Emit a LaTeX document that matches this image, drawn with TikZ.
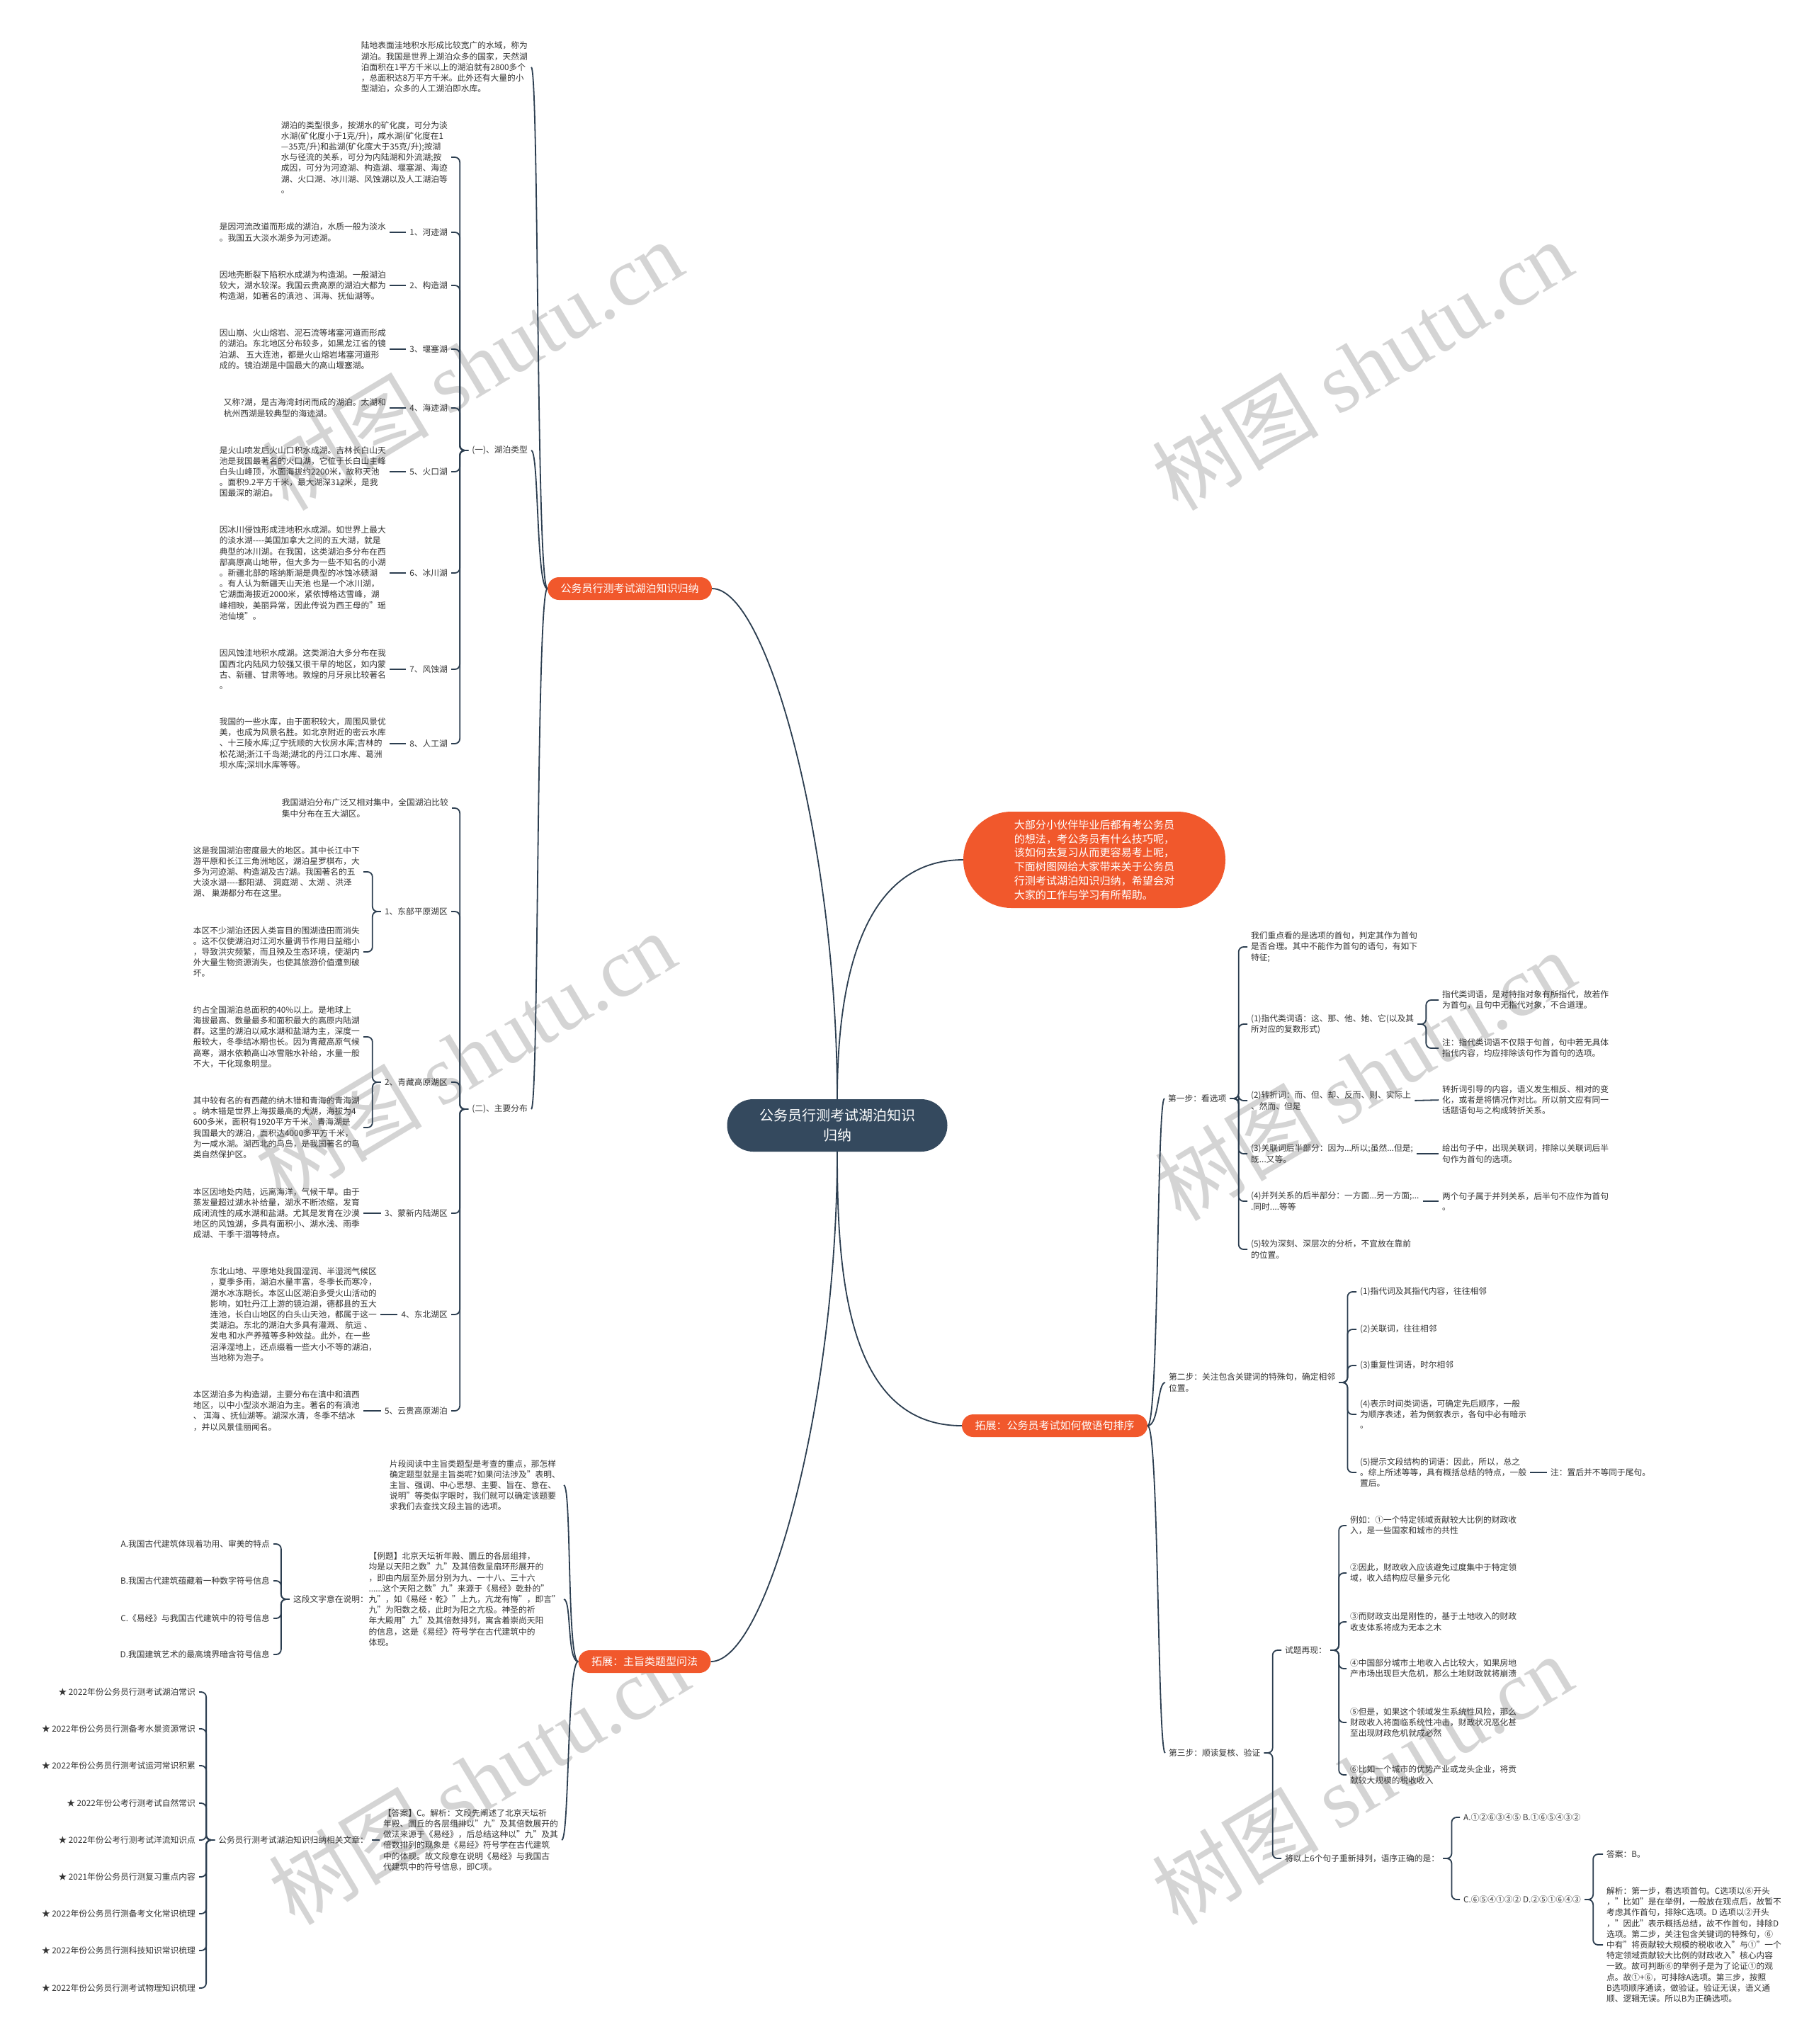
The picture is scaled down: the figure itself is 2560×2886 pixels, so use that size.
\documentclass[tikz,border=0pt]{standalone}
\usepackage{fontspec}
\setmainfont{Noto Sans CJK SC}
\newfontfamily\wmlatin{Liberation Serif}
\definecolor{ink}{RGB}{51,51,51}
\definecolor{edge}{RGB}{44,62,80}
\definecolor{hub}{RGB}{52,73,94}
\definecolor{tang}{RGB}{241,88,44}
\definecolor{mark}{RGB}{212,212,212}

\begin{document}
\begin{tikzpicture}[x=1pt,y=-1pt,
    txt/.style={inner sep=0pt,align=left,text=ink,font=\fontsize{11.75}{15.2}\selectfont},
    lt/.style={txt,anchor=east},
    rt/.style={txt,anchor=west},
    pill/.style={fill=tang,text=white,rounded corners=16pt,minimum height=32pt,
      inner xsep=18.5pt,inner ysep=0pt,font=\fontsize{15}{18}\selectfont},
    wm/.style={text=mark,rotate=31,font=\fontsize{118}{118}\selectfont},
    ln/.style={color=edge,line width=1.8pt},
    lft/.style={to path={-- ++(-17,0) |- (\tikztotarget)}},
    rgt/.style={to path={-- ++(17,0) |- (\tikztotarget)}},
    cl/.style={to path={.. controls +(-16,0) and +(16,0) .. (\tikztotarget)}},
    cr/.style={to path={.. controls +(16,0) and +(-16,0) .. (\tikztotarget)}}]

\fill[white] (0,0) rectangle (2560,2886);
\useasboundingbox (0,0) rectangle (2560,2886);

% watermarks
\draw
  (667,515) node[wm] (w1){树图 {\wmlatin shutu.cn}}
  (1923,515) node[wm] (w2){树图 {\wmlatin shutu.cn}}
  (657,1491) node[wm] (w3){树图 {\wmlatin shutu.cn}}
  (1927,1518) node[wm] (w4){树图 {\wmlatin shutu.cn}}
  (676,2512) node[wm] (w5){树图 {\wmlatin shutu.cn}}
  (1923,2512) node[wm] (w6){树图 {\wmlatin shutu.cn}};

% centre and main branches
\draw
  (1182,1589) node[fill=hub,text=white,rounded corners=37pt,minimum width=311pt,minimum height=74pt,
    align=center,inner sep=0pt,font=\fontsize{20}{28}\selectfont] (c){公务员行测考试湖泊知识\\归纳}
  (1545,1214) node[fill=tang,text=white,rounded corners=68pt,minimum width=370pt,minimum height=136pt,
    align=left,inner sep=0pt,font=\fontsize{15.1}{19.7}\selectfont] (in){大部分小伙伴毕业后都有考公务员\\的想法，考公务员有什么技巧呢，\\该如何去复习从而更容易考上呢，\\下面树图网给大家带来关于公务员\\行测考试湖泊知识归纳，希望会对\\大家的工作与学习有所帮助。}
  (889,831) node[pill] (b1){公务员行测考试湖泊知识归纳}
  (1489,2013) node[pill] (b2){拓展：公务员考试如何做语句排序}
  (910,2346) node[pill] (b3){拓展：主旨类题型问法};

% lake types
\draw
  (745,95) node[lt] (t0){陆地表面洼地积水形成比较宽广的水域，称为\\湖泊。我国是世界上湖泊众多的国家，天然湖\\泊面积在1平方千米以上的湖泊就有2800多个\\，总面积达8万平方千米。此外还有大量的小\\型湖泊，众多的人工湖泊即水库。}
  (745,636) node[lt] (g1){(一)、湖泊类型}
  (632,222) node[lt] (t1){湖泊的类型很多，按湖水的矿化度，可分为淡\\水湖(矿化度小于1克/升)，咸水湖(矿化度在1\\—35克/升)和盐湖(矿化度大于35克/升);按湖\\水与径流的关系，可分为内陆湖和外流湖;按\\成因，可分为河迹湖、构造湖、堰塞湖、海迹\\湖、火口湖、冰川湖、风蚀湖以及人工湖泊等\\。}
  (632,328) node[lt] (l1){1、河迹湖}
  (632,403) node[lt] (l2){2、构造湖}
  (632,493) node[lt] (l3){3、堰塞湖}
  (632,576) node[lt] (l4){4、海迹湖}
  (632,666) node[lt] (l5){5、火口湖}
  (632,809) node[lt] (l6){6、冰川湖}
  (632,945) node[lt] (l7){7、风蚀湖}
  (632,1050) node[lt] (l8){8、人工湖}
  (545,328) node[lt] (d1){是因河流改道而形成的湖泊，水质一般为淡水\\。我国五大淡水湖多为河迹湖。}
  (545,403) node[lt] (d2){因地壳断裂下陷积水成湖为构造湖。一般湖泊\\较大，湖水较深。我国云贵高原的湖泊大都为\\构造湖，如著名的滇池 、洱海、抚仙湖等。}
  (545,493) node[lt] (d3){因山崩、火山熔岩、泥石流等堵塞河道而形成\\的湖泊。东北地区分布较多，如黑龙江省的镜\\泊湖、 五大连池，都是火山熔岩堵塞河道形\\成的。镜泊湖是中国最大的高山堰塞湖。}
  (545,576) node[lt] (d4){又称?湖，是古海湾封闭而成的湖泊。太湖和\\杭州西湖是较典型的海迹湖。}
  (545,666) node[lt] (d5){是火山喷发后火山口积水成湖。吉林长白山天\\池是我国最著名的火口湖，它位于长白山主峰\\白头山峰顶，水面海拔约2200米，故称天池\\。面积9.2平方千米，最大湖深312米，是我\\国最深的湖泊。}
  (545,809) node[lt] (d6){因冰川侵蚀形成洼地积水成湖。如世界上最大\\的淡水湖-{}-{}-{}-美国加拿大之间的五大湖，就是\\典型的冰川湖。在我国，这类湖泊多分布在西\\部高原高山地带，但大多为一些不知名的小湖\\。新疆北部的喀纳斯湖是典型的冰蚀冰碛湖\\。有人认为新疆天山天池 也是一个冰川湖，\\它湖面海拔近2000米，紧依博格达雪峰，湖\\峰相映，美丽异常，因此传说为西王母的"瑶\\池仙境"。}
  (545,945) node[lt] (d7){因风蚀洼地积水成湖。这类湖泊大多分布在我\\国西北内陆风力较强又很干旱的地区，如内蒙\\古、新疆、甘肃等地。敦煌的月牙泉比较著名\\。}
  (545,1050) node[lt] (d8){我国的一些水库，由于面积较大，周围风景优\\美，也成为风景名胜。如北京附近的密云水库\\、十三陵水库;辽宁抚顺的大伙房水库;吉林的\\松花湖;浙江千岛湖;湖北的丹江口水库、葛洲\\坝水库;深圳水库等等。};

% main distribution
\draw
  (745,1566) node[lt] (g2){(二)、主要分布}
  (633,1141) node[lt] (p0){我国湖泊分布广泛又相对集中，全国湖泊比较\\集中分布在五大湖区。}
  (632,1287) node[lt] (e1){1、东部平原湖区}
  (632,1528) node[lt] (e2){2、青藏高原湖区}
  (632,1713) node[lt] (e3){3、蒙新内陆湖区}
  (632,1856) node[lt] (e4){4、东北湖区}
  (632,1992) node[lt] (e5){5、云贵高原湖泊}
  (508,1231) node[lt] (e1a){这是我国湖泊密度最大的地区。其中长江中下\\游平原和长江三角洲地区，湖泊星罗棋布，大\\多为河迹湖、构造湖及古?湖。我国著名的五\\大淡水湖-{}-{}-{}-鄱阳湖、 洞庭湖 、太湖 、洪泽\\湖、 巢湖都分布在这里。}
  (508,1344) node[lt] (e1b){本区不少湖泊还因人类盲目的围湖造田而消失\\。这不仅使湖泊对江河水量调节作用日益缩小\\，导致洪灾频繁，而且殃及生态环境，使湖内\\外大量生物资源消失，也使其旅游价值遭到破\\坏。}
  (508,1464) node[lt] (e2a){约占全国湖泊总面积的40\%以上。是地球上\\海拔最高、数量最多和面积最大的高原内陆湖\\群。这里的湖泊以咸水湖和盐湖为主，深度一\\般较大，冬季结冰期也长。因为青藏高原气候\\高寒，湖水依赖高山冰雪融水补给，水量一般\\不大，干化现象明显。}
  (508,1592) node[lt] (e2b){其中较有名的有西藏的纳木错和青海的青海湖\\。纳木错是世界上海拔最高的大湖，海拔为4\\600多米，面积有1920平方千米。青海湖是\\我国最大的湖泊，面积达4000多平方千米，\\为一咸水湖。湖西北的鸟岛，是我国著名的鸟\\类自然保护区。}
  (508,1713) node[lt] (e3a){本区因地处内陆，远离海洋，气候干旱。由于\\蒸发量超过湖水补给量，湖水不断浓缩，发育\\成闭流性的咸水湖和盐湖。尤其是发育在沙漠\\地区的风蚀湖，多具有面积小、湖水浅、雨季\\成湖、干季干涸等特点。}
  (532,1856) node[lt] (e4a){东北山地、平原地处我国湿润、半湿润气候区\\，夏季多雨，湖泊水量丰富，冬季长而寒冷，\\湖水冰冻期长。本区山区湖泊多受火山活动的\\影响，如牡丹江上游的镜泊湖，德都县的五大\\连池，长白山地区的白头山天池，都属于这一\\类湖泊。东北的湖泊大多具有灌溉、 航运 、\\发电 和水产养殖等多种效益。此外，在一些\\沼泽湿地上，还点缀着一些大小不等的湖泊，\\当地称为泡子。}
  (508,1992) node[lt] (e5a){本区湖泊多为构造湖，主要分布在滇中和滇西\\地区，以中小型淡水湖泊为主。著名的有滇池\\、 洱海 、抚仙湖等。湖深水清，冬季不结冰\\，并以风景佳丽闻名。};

% main idea questions
\draw
  (791,2097) node[lt] (z1){片段阅读中主旨类题型是考查的重点，那怎样\\确定题型就是主旨类呢?如果问法涉及"表明、\\主旨、强调、中心思想、主要、旨在、意在、\\说明"等类似字眼时，我们就可以确定该题要\\求我们去查找文段主旨的选项。}
  (791,2258) node[lt] (z2){【例题】北京天坛祈年殿、圜丘的各层组排，\\均是以天阳之数"九"及其倍数呈扇环形展开的\\，即由内层至外层分别为九、一十八、三十六\\......这个天阳之数"九"来源于《易经》乾卦的"\\九"，如《易经·乾》"上九，亢龙有悔"，即言"\\九"为阳数之极，此时为阳之亢极。神圣的祈\\年大殿用"九"及其倍数排列，寓含着崇尚天阳\\的信息，这是《易经》符号学在古代建筑中的\\体现。}
  (788,2598) node[lt] (z3){【答案】C。解析：文段先阐述了北京天坛祈\\年殿、圜丘的各层组排以"九"及其倍数展开的\\做法来源于《易经》，后总结这种以"九"及其\\倍数排列的现象是《易经》符号学在古代建筑\\中的体现。故文段意在说明《易经》与我国古\\代建筑中的符号信息，即C项。}
  (520,2258) node[lt] (q){这段文字意在说明：}
  (381,2180) node[lt] (qa){A.我国古代建筑体现着功用、审美的特点}
  (381,2232) node[lt] (qb){B.我国古代建筑蕴藏着一种数字符号信息}
  (381,2285) node[lt] (qc){C.《易经》与我国古代建筑中的符号信息}
  (381,2336) node[lt] (qd){D.我国建筑艺术的最高境界暗含符号信息}
  (520,2598) node[lt] (r){公务员行测考试湖泊知识归纳相关文章：}
  (276,2389) node[lt] (s1){★ 2022年份公务员行测考试湖泊常识}
  (276,2441) node[lt] (s2){★ 2022年份公务员行测备考水景资源常识}
  (276,2493) node[lt] (s3){★ 2022年份公务员行测考试运河常识积累}
  (276,2546) node[lt] (s4){★ 2022年份公考行测考试自然常识}
  (276,2598) node[lt] (s5){★ 2022年份公考行测考试洋流知识点}
  (276,2650) node[lt] (s6){★ 2021年份公务员行测复习重点内容}
  (276,2702) node[lt] (s7){★ 2022年份公务员行测备考文化常识梳理}
  (276,2754) node[lt] (s8){★ 2022年份公务员行测科技知识常识梳理}
  (276,2807) node[lt] (s9){★ 2022年份公务员行测考试物理知识梳理};

% sentence order: step one
\draw
  (1649,1551) node[rt] (f0){第一步：看选项}
  (1766,1337) node[rt] (fa){我们重点看的是选项的首句，判定其作为首句\\是否合理。其中不能作为首句的语句，有如下\\特征;}
  (1766,1446) node[rt] (fb){(1)指代类词语：这、那、他、她、它(以及其\\所对应的复数形式)}
  (1766,1554) node[rt] (fc){(2)转折词：而、但、却、反而、则、实际上\\、然而、但是}
  (1766,1629) node[rt] (fd){(3)关联词后半部分：因为...所以;虽然...但是;\\既...又等。}
  (1766,1696) node[rt] (fe){(4)并列关系的后半部分：一方面...另一方面;...\\.同时....等等}
  (1766,1764) node[rt] (ff){(5)较为深刻、深层次的分析，不宜放在靠前\\的位置。}
  (2036,1412) node[rt] (fb1){指代类词语，是对特指对象有所指代，故若作\\为首句，且句中无指代对象，不合道理。}
  (2036,1480) node[rt] (fb2){注：指代类词语不仅限于句首，句中若无具体\\指代内容，均应排除该句作为首句的选项。}
  (2036,1553) node[rt] (fc1){转折词引导的内容，语义发生相反、相对的变\\化，或者是将情况作对比。所以前文应有同一\\话题语句与之构成转折关系。}
  (2036,1629) node[rt] (fd1){给出句子中，出现关联词，排除以关联词后半\\句作为首句的选项。}
  (2036,1696) node[rt] (fe1){两个句子属于并列关系，后半句不应作为首句\\。};

% step two
\draw
  (1650,1952) node[rt] (h0){第二步：关注包含关键词的特殊句，确定相邻\\位置。}
  (1920,1824) node[rt] (h1){(1)指代词及其指代内容，往往相邻}
  (1920,1877) node[rt] (h2){(2)关联词，往往相邻}
  (1920,1928) node[rt] (h3){(3)重复性词语，时尔相邻}
  (1920,1997) node[rt] (h4){(4)表示时间类词语，可确定先后顺序，一般\\为顺序表述，若为倒叙表示，各句中必有暗示\\。}
  (1920,2079) node[rt] (h5){(5)提示文段结构的词语：因此，所以，总之\\。综上所述等等，具有概括总结的特点，一般\\置后。}
  (2189,2079) node[rt] (h6){注：置后并不等同于尾句。};

% step three
\draw
  (1650,2475) node[rt] (k0){第三步：顺读复核、验证}
  (1814,2330) node[rt] (kq){试题再现：}
  (1906,2154) node[rt] (k1){例如：①一个特定领域贡献较大比例的财政收\\入，是一些国家和城市的共性}
  (1906,2221) node[rt] (k2){②因此，财政收入应该避免过度集中于特定领\\域，收入结构应尽量多元化}
  (1906,2290) node[rt] (k3){③而财政支出是刚性的，基于土地收入的财政\\收支体系将成为无本之木}
  (1906,2356) node[rt] (k4){④中国部分城市土地收入占比较大，如果房地\\产市场出现巨大危机，那么土地财政就将崩溃}
  (1906,2432) node[rt] (k5){⑤但是，如果这个领域发生系统性风险，那么\\财政收入将面临系统性冲击，财政状况恶化甚\\至出现财政危机就成必然}
  (1906,2506) node[rt] (k6){⑥比如一个城市的优势产业或龙头企业，将贡\\献较大规模的税收收入}
  (1814,2624) node[rt] (kr){将以上6个句子重新排列，语序正确的是：}
  (2066,2566) node[rt] (ab){A.①②⑥③④⑤ B.①⑥⑤④③②}
  (2066,2682) node[rt] (cd){C.⑥⑤④①③② D.②⑤①⑥④③}
  (2268,2618) node[rt] (an){答案：B。}
  (2268,2746) node[rt] (ex){解析：第一步，看选项首句。C选项以⑥开头\\，"比如"是在举例，一般放在观点后，故暂不\\考虑其作首句，排除C选项。D 选项以②开头\\，"因此"表示概括总结，故不作首句，排除D\\选项。第二步，关注包含关键词的特殊句，⑥\\中有"将贡献较大规模的税收收入"与①"一个\\特定领域贡献较大比例的财政收入"核心内容\\一致。故可判断⑥的举例子是为了论证①的观\\点。故①+⑥，可排除A选项。第三步，按照\\B选项顺序通读，做验证。验证无误，语义通\\顺、逻辑无误。所以B为正确选项。};

% centre links
\begin{scope}[ln]
  \draw (c.north) .. controls +(0,-350) and +(80,0) .. (b1.east);
  \draw (c.north) .. controls +(0,-150) and +(-150,0) .. (in.west);
  \draw (c.south) .. controls +(0,165) and +(-165,0) .. (b2.west);
  \draw (c.south) .. controls +(0,350) and +(80,0) .. (b3.east);
\end{scope}

% branch links
\begin{scope}[ln,shorten >=5pt]
  \draw[cl] (b1.west) to (t0.east);
  \draw[cl] (b1.west) to (g1.east);
  \draw[cl] (b1.west) to (g2.east);
  \draw[cl] (b3.west) to (z1.east);
  \draw[cl] (b3.west) to (z2.east);
  \draw[cl] (b3.west) to (z3.east);
  \draw[cr] (b2.east) to (f0.west);
  \draw[cr] (b2.east) to (h0.west);
  \draw[cr] (b2.east) to (k0.west);
\end{scope}

% leaf links
\begin{scope}[ln,rounded corners=7pt,shorten <=5pt,shorten >=5pt]
  \draw[lft] (g1.west) to (t1.east);
  \draw[lft] (g1.west) to (l1.east);
  \draw[lft] (g1.west) to (l2.east);
  \draw[lft] (g1.west) to (l3.east);
  \draw[lft] (g1.west) to (l4.east);
  \draw[lft] (g1.west) to (l5.east);
  \draw[lft] (g1.west) to (l6.east);
  \draw[lft] (g1.west) to (l7.east);
  \draw[lft] (g1.west) to (l8.east);
  \draw (l1.west) -- (d1.east);
  \draw (l2.west) -- (d2.east);
  \draw (l3.west) -- (d3.east);
  \draw (l4.west) -- (d4.east);
  \draw (l5.west) -- (d5.east);
  \draw (l6.west) -- (d6.east);
  \draw (l7.west) -- (d7.east);
  \draw (l8.west) -- (d8.east);
  \draw[lft] (g2.west) to (p0.east);
  \draw[lft] (g2.west) to (e1.east);
  \draw[lft] (g2.west) to (e2.east);
  \draw[lft] (g2.west) to (e3.east);
  \draw[lft] (g2.west) to (e4.east);
  \draw[lft] (g2.west) to (e5.east);
  \draw[lft] (e1.west) to (e1a.east);
  \draw[lft] (e1.west) to (e1b.east);
  \draw[lft] (e2.west) to (e2a.east);
  \draw[lft] (e2.west) to (e2b.east);
  \draw (e3.west) -- (e3a.east);
  \draw (e4.west) -- (e4a.east);
  \draw (e5.west) -- (e5a.east);
  \draw (z2.west) -- (q.east);
  \draw[lft] (q.west) to (qa.east);
  \draw[lft] (q.west) to (qb.east);
  \draw[lft] (q.west) to (qc.east);
  \draw[lft] (q.west) to (qd.east);
  \draw (z3.west) -- (r.east);
  \draw[lft] (r.west) to (s1.east);
  \draw[lft] (r.west) to (s2.east);
  \draw[lft] (r.west) to (s3.east);
  \draw[lft] (r.west) to (s4.east);
  \draw[lft] (r.west) to (s5.east);
  \draw[lft] (r.west) to (s6.east);
  \draw[lft] (r.west) to (s7.east);
  \draw[lft] (r.west) to (s8.east);
  \draw[lft] (r.west) to (s9.east);
  \draw[rgt] (f0.east) to (fa.west);
  \draw[rgt] (f0.east) to (fb.west);
  \draw[rgt] (f0.east) to (fc.west);
  \draw[rgt] (f0.east) to (fd.west);
  \draw[rgt] (f0.east) to (fe.west);
  \draw[rgt] (f0.east) to (ff.west);
  \draw[rgt] (fb.east) to (fb1.west);
  \draw[rgt] (fb.east) to (fb2.west);
  \draw (fc.east) -- (fc1.west);
  \draw (fd.east) -- (fd1.west);
  \draw (fe.east) -- (fe1.west);
  \draw[rgt] (h0.east) to (h1.west);
  \draw[rgt] (h0.east) to (h2.west);
  \draw[rgt] (h0.east) to (h3.west);
  \draw[rgt] (h0.east) to (h4.west);
  \draw[rgt] (h0.east) to (h5.west);
  \draw (h5.east) -- (h6.west);
  \draw[rgt] (k0.east) to (kq.west);
  \draw[rgt] (k0.east) to (kr.west);
  \draw[rgt] (kq.east) to (k1.west);
  \draw[rgt] (kq.east) to (k2.west);
  \draw[rgt] (kq.east) to (k3.west);
  \draw[rgt] (kq.east) to (k4.west);
  \draw[rgt] (kq.east) to (k5.west);
  \draw[rgt] (kq.east) to (k6.west);
  \draw[rgt] (kr.east) to (ab.west);
  \draw[rgt] (kr.east) to (cd.west);
  \draw[rgt] (cd.east) to (an.west);
  \draw[rgt] (cd.east) to (ex.west);
\end{scope}
\end{tikzpicture}
\end{document}
